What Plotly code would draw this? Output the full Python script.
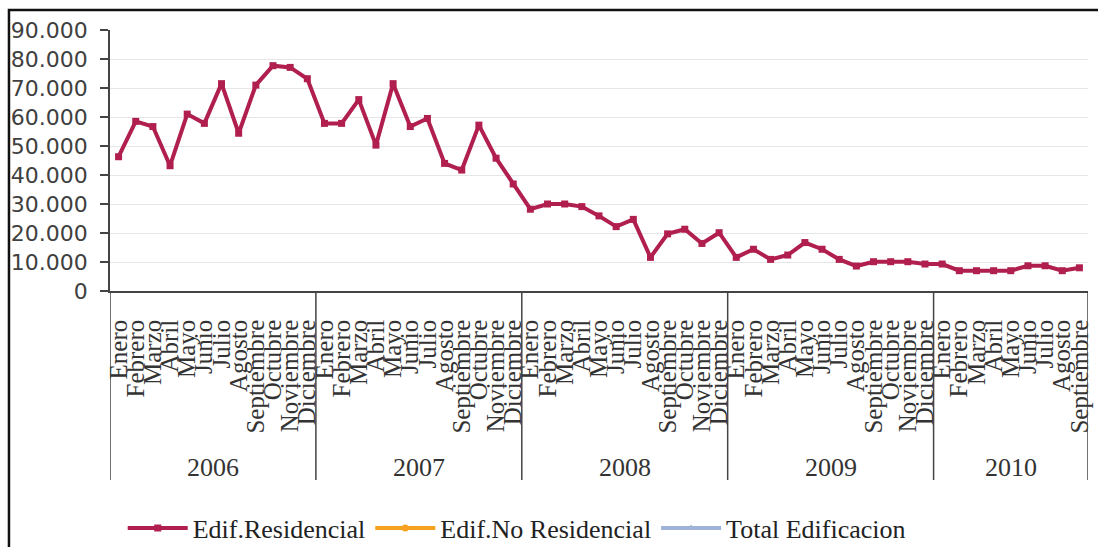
import plotly.graph_objects as go

# Monthly series, January 2006 to September 2010
years = ["2006", "2007", "2008", "2009", "2010"]
months_per_year = [12, 12, 12, 12, 9]
month_names = ["Enero", "Febrero", "Marzo", "Abril", "Mayo", "Junio", "Julio",
               "Agosto", "Septiembre", "Octubre", "Noviembre", "Diciembre"]
series_names = ["Edif.Residencial", "Edif.No Residencial", "Total Edificacion"]

edif_residencial = [
    46300, 58500, 56700, 43200, 61000, 57800, 71500, 54400, 71000, 77700, 77100, 73200,
    57800, 57800, 66000, 50300, 71500, 56700, 59500, 44000, 41700, 57200, 45800, 36900,
    28200, 30000, 30000, 29100, 25900, 22200, 24700, 11600, 19700, 21300, 16400, 20100,
    11600, 14400, 10900, 12400, 16700, 14400, 10900, 8600, 10100, 10100, 10100, 9300,
    9300, 7000, 7000, 7000, 7000, 8700, 8700, 7000, 8000,
]
# The other two series carry no plotted values in this period
edif_no_residencial = [None] * len(edif_residencial)
total_edificacion = [None] * len(edif_residencial)

tick_text = []
for n in months_per_year:
    tick_text += month_names[:n]
x_idx = list(range(len(tick_text)))

RED = "#B01F4E"
ORANGE = "#F7A21E"
BLUE = "#9EB3D8"
SERIF = "Liberation Serif"

fig = go.Figure()
for name, values, color, symbol in zip(
        series_names,
        [edif_residencial, edif_no_residencial, total_edificacion],
        [RED, ORANGE, BLUE],
        ["square", "circle", "triangle-up"]):
    fig.add_trace(go.Scatter(
        x=x_idx, y=values, name=name, mode="lines+markers",
        line=dict(color=color, width=4), marker=dict(symbol=symbol, size=7, color=color),
    ))

# Year group dividers and labels below the month labels
shapes = []
annotations = []
start = 0
bounds = [-0.5]
for yr, n in zip(years, months_per_year):
    end = start + n
    bounds.append(end - 0.5)
    annotations.append(dict(
        x=(start + end - 1) / 2, y=-0.678, xref="x", yref="paper", text=yr,
        showarrow=False, font=dict(family=SERIF, size=26, color="#333333"),
        xanchor="center", yanchor="middle",
    ))
    start = end
for b in bounds:
    shapes.append(dict(type="line", xref="x", yref="paper", x0=b, x1=b, y0=0, y1=-0.724,
                       line=dict(color="#444444", width=1.5)))

# Outer frame of the chart
shapes.append(dict(type="rect", xref="paper", yref="paper", x0=-0.1033, x1=1.2,
                   y0=-1.5, y1=1.0766, line=dict(color="#111111", width=2.5)))

fig.update_layout(
    template="none",
    width=1098, height=547,
    margin=dict(l=110, r=10, t=30, b=256, autoexpand=False),
    paper_bgcolor="white", plot_bgcolor="white",
    font=dict(family=SERIF, size=24, color="#222222"),
    separators=",.",
    showlegend=True,
    legend=dict(orientation="h", x=0.013, y=-0.908, xanchor="left", yanchor="middle",
                font=dict(family=SERIF, size=26, color="#222222"),
                itemwidth=60, bgcolor="rgba(0,0,0,0)", borderwidth=0),
    shapes=shapes,
    annotations=annotations,
    xaxis=dict(
        range=[-0.5, len(x_idx) - 0.5], tickmode="array", tickvals=x_idx, ticktext=tick_text,
        tickangle=-90, ticks="", showgrid=False, zeroline=False, automargin=False,
        showline=True, linecolor="#444444", linewidth=1.5,
        tickfont=dict(family=SERIF, size=25, color="#333333"),
        ticklabelstandoff=17,
    ),
    yaxis=dict(
        range=[0, 90000], dtick=10000, tickformat=",d", automargin=False,
        showgrid=True, gridcolor="#E6E6E6", gridwidth=1, zeroline=False,
        showline=True, linecolor="#444444", linewidth=1.5,
        ticks="outside", ticklen=8, tickcolor="#444444", tickwidth=1.5,
        tickfont=dict(family="DejaVu Sans", size=22, color="#404040"),
        ticklabelstandoff=8,
    ),
)

fig.write_html("out.html")
